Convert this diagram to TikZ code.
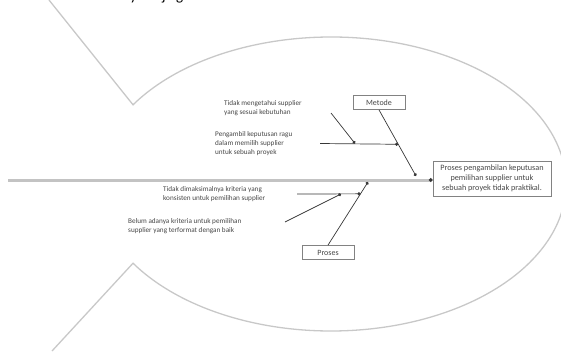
\documentclass[tikz,border=0pt]{standalone}
\usepackage{fontspec}
\setmainfont{Carlito}
\usetikzlibrary{arrows.meta,calc}
\definecolor{fishc}{RGB}{200,200,200}
\definecolor{spinec}{RGB}{195,195,195}
\definecolor{bonec}{RGB}{55,55,55}
\definecolor{boxc}{RGB}{130,130,130}
\definecolor{txt}{RGB}{70,70,70}
\tikzset{
  outline/.style={draw=fishc, line width=1.3},
  spine/.style={draw=spinec, line width=3},
  bone/.style={draw=bonec, line width=0.7, -{Circle[length=3.2pt]}},
  cause/.style={font=\fontsize{7.2}{9}\selectfont, text=txt, align=left, inner sep=0pt, anchor=west},
  catbox/.style={draw=boxc, line width=0.8, minimum width=52, minimum height=14, inner sep=0pt, font=\fontsize{8}{9}\selectfont, text=txt},
  effectbox/.style={draw=boxc, line width=0.8, minimum width=118, minimum height=35, inner sep=0pt, align=center, font=\fontsize{8.2}{10.2}\selectfont, text=txt},
  frag/.style={anchor=base west, inner sep=0pt, font=\fontsize{15}{18}\selectfont, text=black},
}
\begin{document}
\begin{tikzpicture}[x=1pt, y=-1pt]
\useasboundingbox (0,0) rectangle (561,351);

% fish body and tail
\coordinate (tailtop) at (49,0);
\coordinate (tailbot) at (52,351);
\coordinate (jtop) at ($(331,184)+({235*cos(-147.4)},{147*sin(-147.4)})$);
\coordinate (jbot) at ($(331,184)+({235*cos(147.4)},{147*sin(147.4)})$);
\draw[outline] (tailtop) -- (jtop)
  arc[start angle=-147.4, end angle=147.4, x radius=235, y radius=147]
  -- (tailbot);

% text running off the top edge
\node[frag] (fy) at (130,0.5) {y};
\node[frag] (fj) at (162,0.5) {j};
\node[frag] (fg) at (176,0.5) {g};

% head (effect) and category boxes
\node[effectbox] (ef) at (492,178.5) {Proses pengambilan keputusan\\pemilihan supplier untuk\\sebuah proyek tidak praktikal.};
\node[catbox] (mt) at (379,102.5) {Metode};
\node[catbox] (pr) at (328,252.5) {Proses};

% spine
\coordinate (tail) at (8,180);
\draw[spine, -{Circle[length=3.6pt, color=bonec]}] (tail) -- (ef.west |- tail);

% main bones
\coordinate (mend) at (416,176);
\coordinate (pend) at (368,182);
\draw[bone] (mt.south) -- (mend);
\draw[bone] (pr.north) -- (pend);
\coordinate (m1) at ($(mt.south)!0.52!(mend)$);
\coordinate (p1) at ($(pr.north)!0.8125!(pend)$);

% causes
\node[cause] (t1) at (224,108.5) {Tidak mengetahui supplier\\yang sesuai kebutuhan};
\node[cause] (t2) at (215,143.5) {Pengambil keputusan ragu\\dalam memilih supplier\\untuk sebuah proyek};
\node[cause] (t3) at (163,194) {Tidak dimaksimalnya kriteria yang\\konsisten untuk pemilihan supplier};
\node[cause] (t4) at (128,226) {Belum adanya kriteria untuk pemilihan\\supplier yang terformat dengan baik};

\coordinate (s1) at (331,113);
\coordinate (h1) at (355,143.5);
\coordinate (s2) at (320,143.5);
\coordinate (s3) at (297,194);
\coordinate (s4) at (285,222);
\coordinate (h3) at (341,194);

\draw[bone] (s2) -- (m1);
\draw[bone] (s1) -- (h1);
\draw[bone] (s3) -- (p1);
\draw[bone] (s4) -- (h3);
\end{tikzpicture}
\end{document}
